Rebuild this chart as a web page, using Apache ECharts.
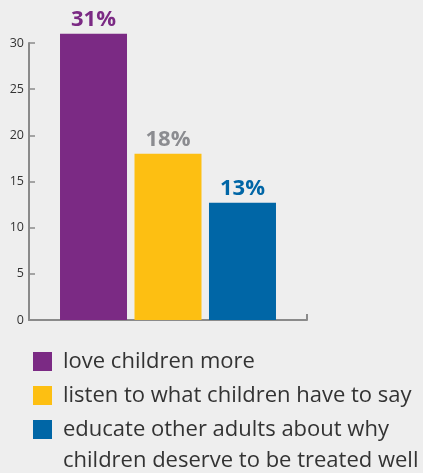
<!DOCTYPE html>
<html>
<head>
<meta charset="utf-8">
<script src="https://cdn.jsdelivr.net/npm/echarts@6/dist/echarts.min.js"></script>
<style>
  html, body { margin: 0; padding: 0; background: #eeeeee; }
  #main { width: 423px; height: 473px; }
</style>
</head>
<body>
<div id="main"></div>
<script>
// data
var categories = ['love children more', 'listen to what children have to say', 'educate other adults about why children deserve to be treated well'];
var legendLines = [['love children more'], ['listen to what children have to say'], ['educate other adults about why', 'children deserve to be treated well']];
var positions = [1, 2, 3];
var values = [31, 18, 12.7];
var valueLabels = ['31%', '18%', '13%'];
var barColors = ['#7b2a84', '#fdbf12', '#0066a6'];
var labelColors = ['#7b2a84', '#8b8c90', '#0066a6'];

var axisGray = '#8a8a8a';
var lineH = 31;
var myChart = echarts.init(document.getElementById('main'));

var series = categories.map(function (name, i) {
  return {
    name: name,
    type: 'bar',
    stack: 'all',
    clip: false,
    barWidth: 67,
    data: [[positions[i], values[i]]],
    itemStyle: { color: barColors[i] },
    label: {
      show: true,
      position: 'top',
      distance: 3,
      formatter: valueLabels[i],
      color: labelColors[i],
      fontFamily: 'Open Sans',
      fontWeight: 'bold',
      fontSize: 22
    }
  };
});

myChart.setOption({
  backgroundColor: '#eeeeee',
  animation: false,
  grid: { left: 29, right: 116, top: 43, bottom: 153, containLabel: false },
  xAxis: {
    type: 'value',
    min: 0.134,
    max: 3.866,
    interval: 3.732,
    axisLine: { show: true, lineStyle: { color: axisGray, width: 2 } },
    axisTick: { show: true, inside: true, length: 6, lineStyle: { color: axisGray, width: 2 } },
    axisLabel: { show: false },
    splitLine: { show: false }
  },
  yAxis: {
    type: 'value',
    min: 0,
    max: 30,
    interval: 5,
    axisLine: { show: true, lineStyle: { color: axisGray, width: 2 } },
    axisTick: { show: true, inside: true, length: 6, lineStyle: { color: axisGray, width: 1.5 } },
    axisLabel: { color: '#333333', fontSize: 12.5, fontFamily: 'Open Sans', margin: 5 },
    splitLine: { show: false }
  },
  legend: {
    orient: 'vertical',
    left: 28,
    top: 341,
    height: 300,
    icon: 'rect',
    itemWidth: 19,
    itemHeight: 19,
    itemGap: 3,
    selectedMode: false,
    formatter: function (name) {
      return legendLines[categories.indexOf(name)].map(function (s) {
        return '{t|' + s + '}';
      }).join('\n');
    },
    textStyle: {
      color: '#333333', fontFamily: 'Open Sans', fontSize: 22, lineHeight: lineH,
      padding: [0, 0, 0, 6],
      rich: { t: { color: '#333333', fontFamily: 'Open Sans', fontSize: 22, lineHeight: lineH } }
    },
    data: categories.map(function (name, i) {
      var extra = legendLines[i].length - 1;
      return extra ? { name: name, textStyle: { padding: [0, 0, -lineH * extra, 6] } } : { name: name };
    })
  },
  series: series
});
</script>
</body>
</html>
